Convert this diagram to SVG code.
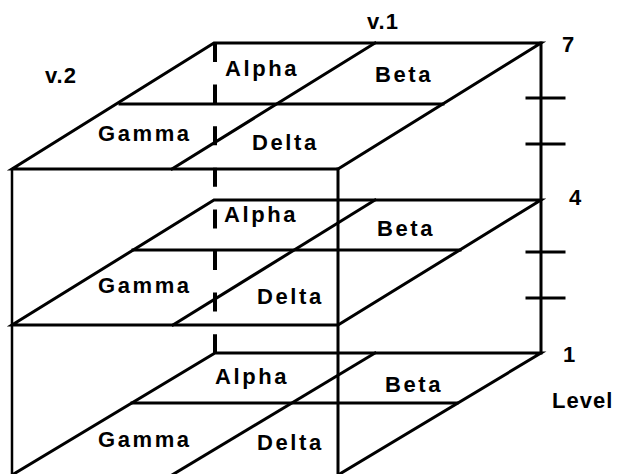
<svg xmlns="http://www.w3.org/2000/svg" width="619" height="474" viewBox="0 0 619 474">
<style>
.ln{stroke:#000;stroke-width:3;fill:none;stroke-linecap:square}
.th{stroke:#000;stroke-width:2.5;fill:none}
.ds{stroke:#000;stroke-width:4;fill:none;stroke-dasharray:19 22.6}
.t{font-family:"Liberation Sans",Arial,sans-serif;font-weight:bold;font-size:22px;letter-spacing:2.6px;fill:#000}
.s{font-family:"Liberation Sans",Arial,sans-serif;font-weight:bold;font-size:22px;letter-spacing:1px;fill:#000}
</style>
<rect width="619" height="474" fill="#fff"/>
<g id="dashed-axis">
<line class="ds" x1="215" y1="43" x2="215" y2="353"/>
</g>
<g id="level7">
<polygon class="ln" points="214,43 541,43 338,169 12,169"/>
<line class="ln" x1="120" y1="104" x2="443" y2="104"/>
<line class="ln" x1="375" y1="43" x2="172" y2="169"/>
<text class="t" x="225" y="76">Alpha</text>
<text class="t" x="375" y="82">Beta</text>
<text class="t" x="98" y="141">Gamma</text>
<text class="t" x="252" y="150">Delta</text>
</g>
<g id="level4">
<polygon class="ln" points="214,200 541,200 338,325 12,325"/>
<line class="ln" x1="133" y1="250" x2="460" y2="250"/>
<line class="ln" x1="375" y1="200" x2="173" y2="325"/>
<text class="t" x="224" y="222">Alpha</text>
<text class="t" x="377" y="236">Beta</text>
<text class="t" x="98" y="293">Gamma</text>
<text class="t" x="257" y="304">Delta</text>
</g>
<g id="level1">
<polyline class="ln" points="12,475 215,353 541,353 338,475"/>
<line class="ln" x1="132" y1="403" x2="457" y2="403"/>
<line class="ln" x1="375" y1="353" x2="172" y2="475"/>
<text class="t" x="215" y="384">Alpha</text>
<text class="t" x="385" y="392">Beta</text>
<text class="t" x="98" y="447">Gamma</text>
<text class="t" x="257" y="450">Delta</text>
</g>
<g id="box">
<line class="th" x1="12" y1="169" x2="12" y2="474"/>
<line class="ln" x1="338" y1="169" x2="338" y2="474"/>
</g>
<g id="scale">
<line class="ln" x1="541" y1="43" x2="541" y2="353"/>
<line class="ln" x1="527" y1="98" x2="564" y2="98"/>
<line class="ln" x1="527" y1="144" x2="564" y2="144"/>
<line class="ln" x1="527" y1="252" x2="564" y2="252"/>
<line class="ln" x1="527" y1="298" x2="564" y2="298"/>
<text class="s" x="562" y="52">7</text>
<text class="s" x="569" y="205">4</text>
<text class="s" x="563" y="362">1</text>
<text class="s" x="552" y="408">Level</text>
</g>
<g id="axis-labels">
<text class="s" x="367" y="29">v.1</text>
<text class="s" x="45" y="83">v.2</text>
</g>
</svg>
